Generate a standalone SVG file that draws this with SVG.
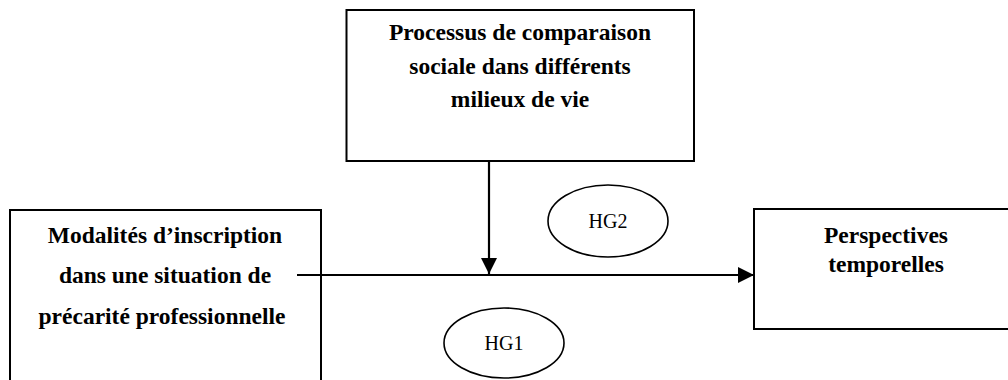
<svg xmlns="http://www.w3.org/2000/svg" width="1008" height="380" viewBox="0 0 1008 380">
<style>
.box{fill:#fff;stroke:#000;stroke-width:2}
.lbl{font-weight:bold;font-size:23.5px;fill:#000;text-anchor:middle}
.hg{font-size:20px;fill:#000;text-anchor:middle}
.ell{fill:#fff;stroke:#000;stroke-width:1.6}
.conn{stroke:#000;stroke-width:2.2;fill:none}
</style>
<defs>
<marker id="arr" markerUnits="userSpaceOnUse" markerWidth="16" markerHeight="16" viewBox="0 0 16 16" refX="16" refY="8" orient="auto">
<path d="M0,0 L16,8 L0,16 Z" fill="#000"/>
</marker>
</defs>
<rect width="1008" height="380" fill="#fff"/>
<g font-family="'Liberation Serif', 'DejaVu Serif', serif">
<g id="node-comparaison">
<rect class="box" x="346.5" y="10" width="347.5" height="151"/>
<text class="lbl" x="520" y="40">Processus de comparaison</text>
<text class="lbl" x="520" y="74">sociale dans différents</text>
<text class="lbl" x="520" y="107">milieux de vie</text>
</g>
<g id="node-modalites">
<path class="box" d="M10,390 L10,210 L321,210 L321,390"/>
<text class="lbl" x="165" y="243">Modalités d’inscription</text>
<text class="lbl" x="165" y="283">dans une situation de</text>
<text class="lbl" x="162" y="324">précarité professionnelle</text>
</g>
<g id="node-perspectives">
<path class="box" d="M1012,209 L754,209 L754,329 L1012,329"/>
<text class="lbl" x="886" y="243">Perspectives</text>
<text class="lbl" x="886" y="272">temporelles</text>
</g>
<g id="node-hg2">
<ellipse class="ell" cx="608" cy="221" rx="60" ry="36"/>
<text class="hg" x="608" y="228">HG2</text>
</g>
<g id="node-hg1">
<ellipse class="ell" cx="504" cy="343" rx="60" ry="35"/>
<text class="hg" x="504" y="350">HG1</text>
</g>
</g>
<g id="connectors">
<line class="conn" x1="297" y1="275" x2="754" y2="275" marker-end="url(#arr)"/>
<line class="conn" x1="489" y1="161" x2="489" y2="274" marker-end="url(#arr)"/>
</g>
</svg>
